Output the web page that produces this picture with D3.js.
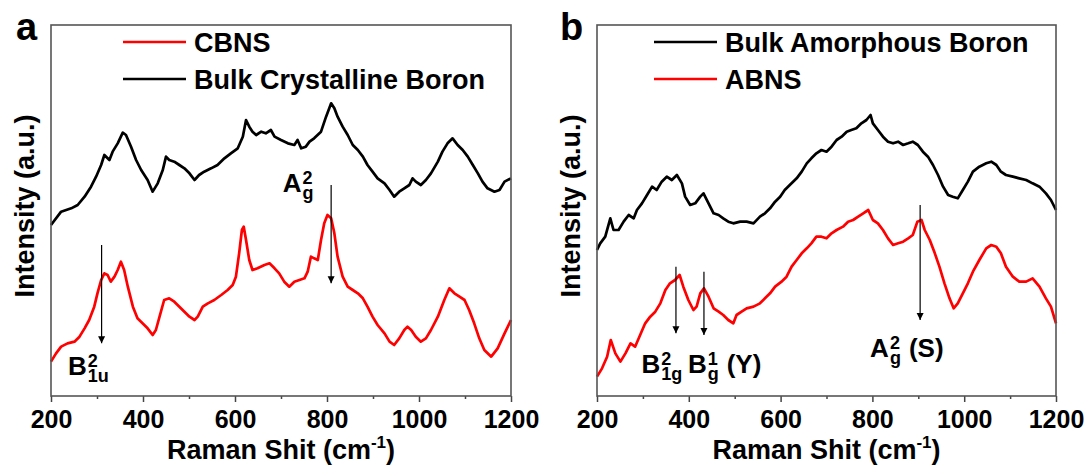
<!DOCTYPE html>
<html><head><meta charset="utf-8">
<script src="https://cdn.jsdelivr.net/npm/d3@7"></script>
<style>
html,body{margin:0;padding:0;background:#fff;}
svg{display:block;font-family:"Liberation Sans",Arial,sans-serif;font-weight:bold;}
</style></head>
<body><svg id="c" width="1088" height="472"></svg>
<script>
// ---------- data (Raman shift in cm^-1, intensity in a.u.) ----------
const xTicks = [200, 400, 600, 800, 1000, 1200];
const xMinor = [300, 500, 700, 900, 1100];

const bulkCrystShift = [200,222,244,258,273,287,298,309,316,327,334,345,356,363,374,385,396,410,421,432,443,450,457,468,479,490,501,512,522,533,548,562,577,591,606,617,624,631,638,646,657,667,678,686,700,715,729,736,744,754,762,772,787,798,809,816,823,834,845,856,867,878,888,899,910,925,936,946,957,968,979,986,993,1004,1015,1026,1041,1051,1062,1073,1084,1095,1106,1117,1128,1138,1149,1164,1175,1186,1200];
const bulkCrystInt = [495,535,545,555,580,610,640,675,705,690,715,740,772,765,730,690,660,630,595,620,660,700,690,685,675,665,650,630,645,655,665,675,695,710,725,760,810,790,775,765,775,770,780,760,750,740,735,750,725,730,745,755,775,820,860,845,820,790,765,735,720,700,675,655,635,620,600,580,595,605,615,635,625,615,630,650,685,715,740,755,735,720,700,675,650,625,605,595,600,625,635];

const cbnsShift = [200,211,222,236,251,262,273,283,294,301,309,316,323,330,338,345,352,359,367,378,388,399,410,421,428,436,446,457,468,479,490,501,512,519,530,541,555,570,584,595,602,609,615,619,624,631,638,649,664,675,686,696,707,718,729,740,751,758,765,772,780,787,794,801,809,816,823,834,845,856,867,878,888,899,910,925,936,946,957,968,975,983,993,1004,1015,1026,1041,1055,1066,1077,1088,1099,1109,1120,1131,1142,1157,1171,1186,1200];
const cbnsInt = [85,110,130,140,145,160,185,210,250,290,330,350,345,325,340,360,385,360,310,250,215,200,185,165,180,220,270,275,265,250,235,220,210,220,250,260,270,285,300,315,340,410,480,490,450,390,360,365,375,380,365,350,325,310,325,330,335,355,400,395,390,450,500,525,515,470,400,340,310,300,290,275,250,220,195,170,145,135,155,180,190,180,160,145,155,180,220,270,305,290,280,270,240,200,155,120,100,125,170,210];

const bulkAmorShift = [200,207,218,229,236,247,258,269,280,287,298,309,320,330,341,352,363,374,385,392,403,414,425,432,443,454,465,475,486,497,512,526,541,555,566,577,588,599,609,620,635,646,657,667,678,689,700,711,722,733,744,754,765,776,787,796,801,812,823,834,845,856,867,878,888,899,910,921,932,943,954,965,975,986,997,1008,1019,1033,1048,1059,1070,1080,1091,1106,1120,1135,1149,1164,1178,1189,1200];
const bulkAmorInt = [420,440,460,515,480,480,505,525,515,540,560,585,610,600,625,640,630,645,620,580,555,560,580,590,560,530,525,515,505,500,505,505,500,520,530,545,565,580,600,615,635,655,680,695,710,720,715,730,750,760,775,780,785,800,810,825,800,780,760,745,740,745,735,740,745,735,715,700,675,645,610,585,580,575,600,625,655,670,680,685,675,655,645,640,635,630,620,610,590,570,540];

const abnsShift = [200,211,222,230,240,251,262,273,283,294,305,316,327,338,349,359,370,380,388,399,410,417,425,433,443,454,465,475,486,497,504,515,526,541,555,566,577,588,602,613,624,635,646,657,667,678,689,700,711,722,736,747,758,769,780,791,801,812,823,834,845,856,867,878,888,898,907,914,925,936,946,957,968,977,986,997,1008,1019,1033,1048,1059,1070,1080,1091,1106,1120,1135,1149,1164,1178,1189,1200];
const abnsInt = [40,65,100,150,110,85,110,140,130,165,200,220,235,260,300,320,330,345,310,270,240,250,290,305,280,245,235,225,210,200,225,235,245,250,260,275,290,310,325,340,370,390,410,425,440,460,460,455,470,480,490,505,510,520,530,540,510,500,480,455,435,440,445,455,465,505,510,480,450,410,370,320,275,245,260,290,320,355,390,425,435,430,410,370,340,325,325,335,310,275,250,200];

// annotation arrows: [shift, from intensity, to intensity]
const arrowsA = [[310, 435, 140], [809, 615, 320]];
const arrowsB = [[372, 370, 170], [433, 355, 165], [904, 555, 210]];

// ---------- drawing ----------
const svg = d3.select("#c");
const FONT = '"Liberation Sans",Arial,sans-serif';

svg.append("defs").append("marker")
  .attr("id","ah").attr("viewBox","0 0 10 10").attr("refX",10).attr("refY",5)
  .attr("markerWidth",7).attr("markerHeight",9).attr("markerUnits","userSpaceOnUse")
  .attr("orient","auto")
  .append("path").attr("d","M0,0 L10,5 L0,10 Z").attr("fill","#000");

function panel(cfg){
  const x = d3.scaleLinear().domain([200,1200]).range([cfg.left, cfg.right]);
  const y = d3.scaleLinear().domain([-18,1095]).range([396,25]);
  const g = svg.append("g");

  // curves
  const line = d3.line().x(d=>x(d[0])).y(d=>y(d[1]));
  cfg.series.forEach(s=>{
    const pts = s.shift.map((v,i)=>[v, s.int[i]]);
    g.append("path").datum(pts).attr("d", line)
      .attr("fill","none").attr("stroke", s.color).attr("stroke-width",2.7)
      .attr("stroke-linejoin","round");
  });

  // x axis
  const ax = g.append("g").attr("transform","translate(0,396)")
    .call(d3.axisBottom(x).tickValues(xTicks).tickSize(6).tickPadding(8).tickFormat(d3.format("d")));
  ax.select(".domain").remove();
  ax.selectAll("line").attr("stroke","#444").attr("stroke-width",1.5);
  ax.selectAll("text").attr("font-family",FONT).attr("font-weight","bold")
    .attr("font-size",25).attr("fill","#000");
  const axm = g.append("g").attr("transform","translate(0,396)")
    .call(d3.axisBottom(x).tickValues(xMinor).tickSize(3).tickFormat(""));
  axm.select(".domain").remove();
  axm.selectAll("line").attr("stroke","#444").attr("stroke-width",1.5);

  // frame
  g.append("rect").attr("x",cfg.left).attr("y",25)
    .attr("width",cfg.right-cfg.left).attr("height",371)
    .attr("fill","none").attr("stroke","#555").attr("stroke-width",1.6);

  // axis titles
  const xt = g.append("text").attr("x",(cfg.left+cfg.right)/2).attr("y",459)
    .attr("text-anchor","middle").attr("font-size",27);
  xt.append("tspan").text("Raman Shit (cm");
  xt.append("tspan").attr("font-size",17).attr("dy",-11).text("-1");
  xt.append("tspan").attr("dy",11).text(")");

  g.append("text").attr("transform",`translate(${cfg.ylx},206) rotate(-90)`)
    .attr("text-anchor","middle").attr("font-size",27).text("Intensity (a.u.)");

  // panel letter
  g.append("text").attr("x",cfg.letterX).attr("y",40).attr("font-size",38).text(cfg.letter);

  // legend
  cfg.legend.forEach((l,i)=>{
    const ly = 42 + i*37;
    g.append("line").attr("x1",cfg.legX).attr("x2",cfg.legX+63).attr("y1",ly).attr("y2",ly)
      .attr("stroke",l.color).attr("stroke-width",2.4);
    g.append("text").attr("x",cfg.legX+71).attr("y",ly+10).attr("font-size",27).text(l.label);
  });

  // arrows
  cfg.arrows.forEach(a=>{
    g.append("line").attr("x1",x(a[0])).attr("x2",x(a[0])).attr("y1",y(a[1])).attr("y2",y(a[2]))
      .attr("stroke","#000").attr("stroke-width",1.2).attr("marker-end","url(#ah)");
  });

  // annotation labels (main letter + stacked superscript / subscript)
  cfg.labels.forEach(l=>{
    const px = x(l.at[0]), py = y(l.at[1]);
    const t = g.append("text").attr("font-size",26);
    const m = t.append("tspan").attr("x",px).attr("y",py).text(l.main);
    const w = m.node().getComputedTextLength();
    t.append("tspan").attr("x",px+w+1).attr("y",py-8).attr("font-size",18).text(l.sup);
    const s = t.append("tspan").attr("x",px+w+1).attr("y",py+7).attr("font-size",18).text(l.sub);
    if (l.tail){
      const sw = s.node().getComputedTextLength();
      t.append("tspan").attr("x",px+w+1+sw+8).attr("y",py).text(l.tail);
    }
  });
}

panel({
  left:51, right:511, ylx:34, letter:"a", letterX:16, legX:123,
  series:[{shift:bulkCrystShift,int:bulkCrystInt,color:"#000"},{shift:cbnsShift,int:cbnsInt,color:"#f00"}],
  legend:[{label:"CBNS",color:"#f00"},{label:"Bulk Crystalline Boron",color:"#000"}],
  arrows:arrowsA,
  labels:[{at:[237,45],main:"B",sup:"2",sub:"1u"},{at:[704,594],main:"A",sup:"2",sub:"g"}]
});
panel({
  left:597, right:1056, ylx:580, letter:"b", letterX:560, legX:654,
  series:[{shift:bulkAmorShift,int:bulkAmorInt,color:"#000"},{shift:abnsShift,int:abnsInt,color:"#f00"}],
  legend:[{label:"Bulk Amorphous Boron",color:"#000"},{label:"ABNS",color:"#f00"}],
  arrows:arrowsB,
  labels:[{at:[297,51],main:"B",sup:"2",sub:"1g"},{at:[398,51],main:"B",sup:"1",sub:"g",tail:"(Y)"},
          {at:[795,100],main:"A",sup:"2",sub:"g",tail:"(S)"}]
});
</script></body></html>
